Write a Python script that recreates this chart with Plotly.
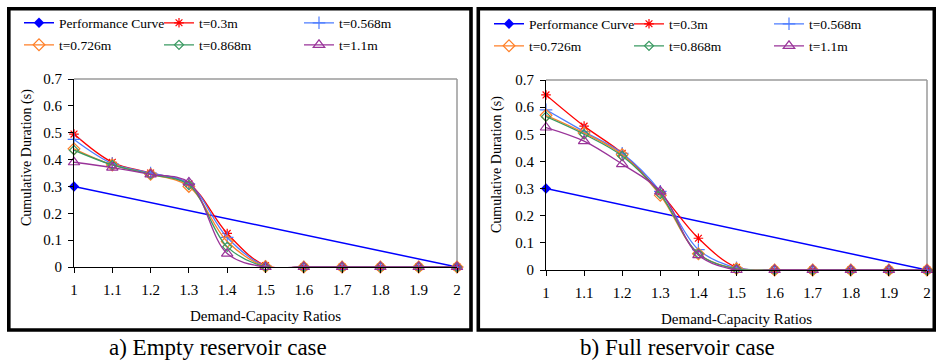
import plotly.graph_objects as go

# ---------------- data ----------------
ratios = [1.0, 1.1, 1.2, 1.3, 1.4, 1.5, 1.6, 1.7, 1.8, 1.9, 2.0]
perf_x = [1.0, 2.0]
perf_y = [0.30, 0.0]

series_names = ["t=0.3m", "t=0.568m", "t=0.726m", "t=0.868m", "t=1.1m"]

# a) Empty reservoir case
empty_t030 = [0.495, 0.390, 0.350, 0.310, 0.125, 0.005, 0, 0, 0, 0, 0]
empty_t0568 = [0.475, 0.385, 0.350, 0.310, 0.110, 0.003, 0, 0, 0, 0, 0]
empty_t0726 = [0.440, 0.380, 0.345, 0.300, 0.095, 0.002, 0, 0, 0, 0, 0]
empty_t0868 = [0.435, 0.380, 0.345, 0.305, 0.075, 0.001, 0, 0, 0, 0, 0]
empty_t110 = [0.390, 0.370, 0.345, 0.315, 0.050, 0.000, 0, 0, 0, 0, 0]

# b) Full reservoir case
full_t030 = [0.645, 0.530, 0.430, 0.285, 0.117, 0.010, 0, 0, 0, 0, 0]
full_t0568 = [0.590, 0.510, 0.430, 0.290, 0.075, 0.008, 0, 0, 0, 0, 0]
full_t0726 = [0.570, 0.505, 0.425, 0.275, 0.060, 0.005, 0, 0, 0, 0, 0]
full_t0868 = [0.565, 0.500, 0.420, 0.280, 0.060, 0.004, 0, 0, 0, 0, 0]
full_t110 = [0.525, 0.475, 0.390, 0.290, 0.055, 0.000, 0, 0, 0, 0, 0]

x_tick_vals = [1.0, 1.1, 1.2, 1.3, 1.4, 1.5, 1.6, 1.7, 1.8, 1.9, 2.0]
x_tick_text = ["1", "1.1", "1.2", "1.3", "1.4", "1.5", "1.6", "1.7", "1.8", "1.9", "2"]
y_tick_vals = [0, 0.1, 0.2, 0.3, 0.4, 0.5, 0.6, 0.7]
y_tick_text = ["0", "0.1", "0.2", "0.3", "0.4", "0.5", "0.6", "0.7"]

x_title = "Demand-Capacity Ratios"
y_title = "Cumulative Duration (s)"
perf_name = "Performance Curve"
captions = ["a) Empty reservoir case", "b) Full reservoir case"]

# ---------------- styles ----------------
W, H = 936, 361
FONT = "Liberation Serif, Times New Roman, serif"
perf_style = dict(color="#0000FF", symbol="diamond", size=8)
styles = [
    dict(color="#FF0000", symbol="asterisk-open", size=8),
    dict(color="#4D7CFF", symbol="cross-thin-open", size=9),
    dict(color="#FF7F27", symbol="diamond-open", size=9),
    dict(color="#3A9A62", symbol="diamond-open", size=7),
    dict(color="#993399", symbol="triangle-up-open", size=10),
]


def px(x):
    return x / W


def py(y):
    return 1 - y / H


fig = go.Figure()

panels = [
    dict(xa="x", ya="y", data=[empty_t030, empty_t0568, empty_t0726, empty_t0868, empty_t110],
         legends=["legend", "legend2"]),
    dict(xa="x2", ya="y2", data=[full_t030, full_t0568, full_t0726, full_t0868, full_t110],
         legends=["legend3", "legend4"]),
]

for p in panels:
    fig.add_trace(go.Scatter(
        x=perf_x, y=perf_y, name=perf_name, mode="lines+markers",
        line=dict(color=perf_style["color"], width=1.5),
        marker=dict(color=perf_style["color"], symbol=perf_style["symbol"], size=perf_style["size"]),
        xaxis=p["xa"], yaxis=p["ya"], legend=p["legends"][0], cliponaxis=False,
    ))
    for i, (name, vals, st) in enumerate(zip(series_names, p["data"], styles)):
        fig.add_trace(go.Scatter(
            x=ratios, y=vals, name=name, mode="lines+markers",
            line=dict(color=st["color"], width=1.3, shape="spline", smoothing=1),
            marker=dict(color=st["color"], symbol=st["symbol"], size=st["size"],
                        line=dict(color=st["color"], width=1.2)),
            xaxis=p["xa"], yaxis=p["ya"], legend=p["legends"][0 if i < 2 else 1],
            cliponaxis=False,
        ))

axis_common = dict(
    showgrid=False, zeroline=False, showline=True, linecolor="#000000", linewidth=1,
    ticks="outside", ticklen=5, tickwidth=1, tickcolor="#000000", automargin=False,
    tickfont=dict(family=FONT, size=15, color="#000000"), fixedrange=True,
)
xaxis_common = dict(axis_common, range=[1, 2], tickvals=x_tick_vals, ticktext=x_tick_text,
                    ticklabelstandoff=4)
yaxis_common = dict(axis_common, range=[0, 0.7], tickvals=y_tick_vals, ticktext=y_tick_text,
                    ticklabelstandoff=3)

legend_common = dict(
    orientation="h", xanchor="left", yanchor="middle", entrywidth=95, entrywidthmode="pixels",
    font=dict(family=FONT, size=13.5, color="#000000"), bgcolor="rgba(0,0,0,0)", itemwidth=30,
    traceorder="normal", tracegroupgap=0,
)

fig.update_layout(
    template="none",
    width=W, height=H, margin=dict(l=0, r=0, t=0, b=0, autoexpand=False),
    paper_bgcolor="white", plot_bgcolor="white", showlegend=True,
    xaxis=dict(xaxis_common, domain=[px(74), px(457)], anchor="y"),
    yaxis=dict(yaxis_common, domain=[py(267), py(79)], anchor="x"),
    xaxis2=dict(xaxis_common, domain=[px(546), px(927)], anchor="y2"),
    yaxis2=dict(yaxis_common, domain=[py(270), py(80)], anchor="x2"),
    legend=dict(legend_common, x=px(19), y=py(23)),
    legend2=dict(legend_common, x=px(19), y=py(45)),
    legend3=dict(legend_common, x=px(489), y=py(24)),
    legend4=dict(legend_common, x=px(489), y=py(46)),
)

shapes = []
# outer panel frames
for x0, x1 in [(8.8, 471), (478.3, 934.3)]:
    shapes.append(dict(type="rect", xref="paper", yref="paper", x0=px(x0), x1=px(x1),
                       y0=py(330), y1=py(8.8), line=dict(color="#000000", width=3.6)))
# gray top/right border of plot areas
for xa, ya in [("x", "y"), ("x2", "y2")]:
    shapes.append(dict(type="line", xref=f"{xa} domain", yref=f"{ya} domain", x0=0, x1=1, y0=1, y1=1,
                       line=dict(color="#9A9A9A", width=1.5), layer="below"))
    shapes.append(dict(type="line", xref=f"{xa} domain", yref=f"{ya} domain", x0=1, x1=1, y0=0, y1=1,
                       line=dict(color="#9A9A9A", width=1.5), layer="below"))
fig.update_layout(shapes=shapes)

annotations = []
# axis titles
for cx, cy in [(265, 316), (736, 319)]:
    annotations.append(dict(text=x_title, x=px(cx), y=py(cy), xref="paper", yref="paper",
                            showarrow=False, xanchor="center", yanchor="middle",
                            font=dict(family=FONT, size=15, color="#000000")))
for cx, cy in [(27, 158), (497, 165)]:
    annotations.append(dict(text=y_title, x=px(cx), y=py(cy), xref="paper", yref="paper",
                            showarrow=False, xanchor="center", yanchor="middle", textangle=-90,
                            font=dict(family=FONT, size=14, color="#000000")))
# captions
for cap, cx in zip(captions, [218, 677]):
    annotations.append(dict(text=cap, x=px(cx), y=py(347), xref="paper", yref="paper",
                            showarrow=False, xanchor="center", yanchor="middle",
                            font=dict(family=FONT, size=23, color="#000000")))
fig.update_layout(annotations=annotations)

fig.write_html("out.html", config={"displayModeBar": False},
               post_script="document.body.style.margin='0';")
